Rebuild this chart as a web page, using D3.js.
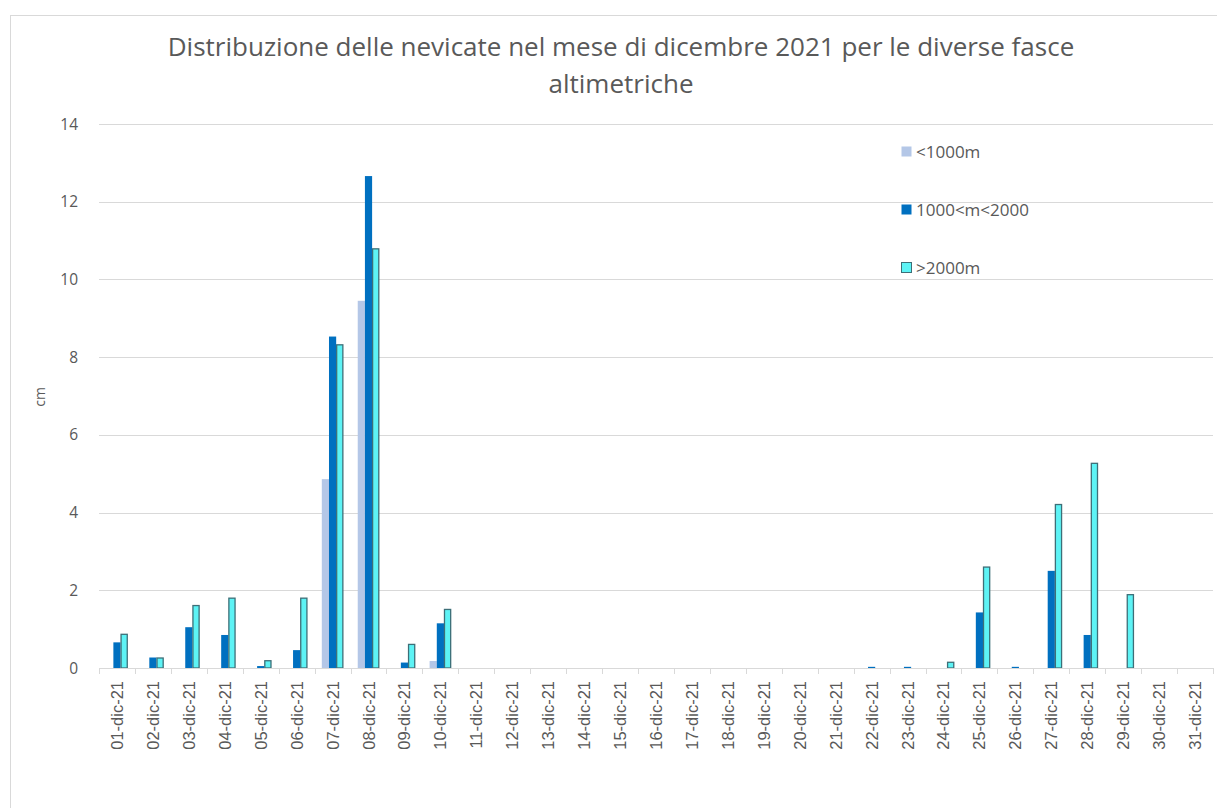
<!DOCTYPE html>
<html>
<head>
<meta charset="utf-8">
<script src="https://cdnjs.cloudflare.com/ajax/libs/d3/7.8.5/d3.min.js"></script>
<style>
  body { margin: 0; background: #fff; }
</style>
</head>
<body>
<script>
// ---------- data
var days = d3.range(1, 32).map(function(d) {
  return (d < 10 ? "0" + d : "" + d) + "-dic-21";
});
var series = ["<1000m", "1000<m<2000", ">2000m"];
// cm per giorno
var low = [0, 0, 0, 0, 0, 0, 4.86, 9.45, 0, 0.18,
           0, 0, 0, 0, 0, 0, 0, 0, 0, 0,
           0, 0, 0, 0, 0, 0, 0, 0, 0, 0, 0];
var mid = [0.66, 0.27, 1.05, 0.85, 0.05, 0.46, 8.53, 12.66, 0.14, 1.15,
           0, 0, 0, 0, 0, 0, 0, 0, 0, 0,
           0, 0.03, 0.03, 0, 1.43, 0.03, 2.5, 0.85, 0, 0, 0];
var high = [0.88, 0.27, 1.62, 1.81, 0.2, 1.81, 8.33, 10.8, 0.62, 1.52,
            0, 0, 0, 0, 0, 0, 0, 0, 0, 0,
            0, 0, 0, 0.16, 2.61, 0, 4.22, 5.28, 1.9, 0, 0];
var yTicks = [0, 2, 4, 6, 8, 10, 12, 14];

var colors = ["#b4c7e7", "#0070c0", "#5df3f5"];
var strokes = ["none", "none", "#3d6f78"];

// ---------- size
var w = 1217, h = 808;
var plotL = 99, plotR = 1213, plotT = 124, plotB = 668;

var svg = d3.select("body").append("svg")
  .attr("width", w)
  .attr("height", h);

// chart border
svg.append("rect")
  .attr("x", 10.5).attr("y", 15.5)
  .attr("width", w + 20).attr("height", h + 20)
  .attr("fill", "none")
  .attr("stroke", "#d9d9d9");

// ---------- scales
var xScale = d3.scaleBand()
  .domain(days)
  .range([plotL, plotR]);

var inner = d3.scaleBand()
  .domain([0, 1, 2])
  .range([xScale.bandwidth() * 0.2, xScale.bandwidth() * 0.8]);

var yScale = d3.scaleLinear()
  .domain([0, 14])
  .range([plotB, plotT]);

// ---------- grid
svg.append("g")
  .selectAll("line")
  .data(yTicks.slice(1))
  .enter()
  .append("line")
  .attr("x1", plotL).attr("x2", plotR)
  .attr("y1", function(d) { return Math.round(yScale(d)) + 0.5; })
  .attr("y2", function(d) { return Math.round(yScale(d)) + 0.5; })
  .attr("stroke", "#d9d9d9");

// y labels
svg.append("g")
  .selectAll("text")
  .data(yTicks)
  .enter()
  .append("text")
  .attr("x", 78)
  .attr("y", function(d) { return yScale(d) + 5.5; })
  .attr("text-anchor", "end")
  .attr("font-family", "'Open Sans', sans-serif")
  .attr("font-size", "15.5px")
  .attr("fill", "#595959")
  .text(function(d) { return d; });

svg.append("text")
  .attr("transform", "translate(45," + 397 + ") rotate(-90)")
  .attr("text-anchor", "middle")
  .attr("font-family", "'Open Sans', sans-serif")
  .attr("font-size", "14px")
  .attr("fill", "#595959")
  .text("cm");

// ---------- bars
var table = days.map(function(d, i) {
  return { day: d, vals: [low[i], mid[i], high[i]] };
});

var groups = svg.append("g")
  .selectAll("g")
  .data(table)
  .enter()
  .append("g")
  .attr("transform", function(d) { return "translate(" + xScale(d.day) + ",0)"; });

groups.selectAll("rect")
  .data(function(d) {
    return d.vals.map(function(v, k) { return { k: k, v: v }; })
                 .filter(function(e) { return e.v > 0; });
  })
  .enter()
  .append("rect")
  .attr("x", function(d) { return inner(d.k) + (d.k == 2 ? 0.5 : 0); })
  .attr("y", function(d) { return yScale(d.v) + (d.k == 2 ? 0.5 : 0); })
  .attr("width", function(d) { return inner.bandwidth() - (d.k == 2 ? 1 : 0); })
  .attr("height", function(d) { return Math.max(0.8, plotB - yScale(d.v) - (d.k == 2 ? 0.5 : 0)); })
  .attr("fill", function(d) { return colors[d.k]; })
  .attr("stroke", function(d) { return strokes[d.k]; })
  .attr("stroke-width", 1.3);

// ---------- x axis
svg.append("line")
  .attr("x1", plotL).attr("x2", plotR)
  .attr("y1", plotB + 0.5).attr("y2", plotB + 0.5)
  .attr("stroke", "#d9d9d9");

svg.append("g")
  .selectAll("line")
  .data(days.concat(["end"]))
  .enter()
  .append("line")
  .attr("x1", function(d, i) { return Math.round(plotL + i * xScale.step()) + 0.5; })
  .attr("x2", function(d, i) { return Math.round(plotL + i * xScale.step()) + 0.5; })
  .attr("y1", plotB).attr("y2", plotB + 6)
  .attr("stroke", "#d9d9d9");

svg.append("g")
  .selectAll("text")
  .data(days)
  .enter()
  .append("text")
  .attr("transform", function(d) {
    return "translate(" + (xScale(d) + xScale.bandwidth() / 2 + 6) + "," + 681 + ") rotate(-90)";
  })
  .attr("text-anchor", "end")
  .attr("font-family", "'Liberation Sans', Arial, sans-serif")
  .attr("font-size", "16.5px")
  .attr("fill", "#595959")
  .text(function(d) { return d; });

// ---------- title
var title = svg.append("text")
  .attr("text-anchor", "middle")
  .attr("font-family", "'Open Sans', sans-serif")
  .attr("font-size", "26px")
  .attr("fill", "#595959");
title.append("tspan").attr("x", 621).attr("y", 56)
  .text("Distribuzione delle nevicate nel mese di dicembre 2021 per le diverse fasce");
title.append("tspan").attr("x", 621).attr("y", 93)
  .text("altimetriche");

// ---------- legend
var legend = svg.append("g")
  .selectAll("g")
  .data(series)
  .enter()
  .append("g")
  .attr("transform", function(d, i) { return "translate(901," + (146 + i * 58) + ")"; });

legend.append("rect")
  .attr("x", 0.5).attr("y", 0.5)
  .attr("width", 10).attr("height", 10)
  .attr("fill", function(d, i) { return colors[i]; })
  .attr("stroke", function(d, i) { return strokes[i]; });

legend.append("text")
  .attr("x", 15)
  .attr("y", 11.5)
  .attr("font-family", "'Open Sans', sans-serif")
  .attr("font-size", "17px")
  .attr("fill", "#595959")
  .text(function(d) { return d; });
</script>
</body>
</html>
